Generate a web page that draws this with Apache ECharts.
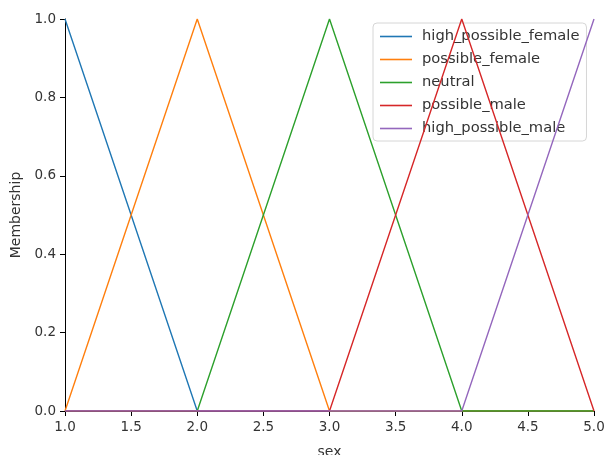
<!DOCTYPE html>
<html><head><meta charset="utf-8">
<script src="https://cdn.jsdelivr.net/npm/echarts@6/dist/echarts.min.js"></script>
<style>html,body{margin:0;padding:0;background:#fff}#c{width:606px;height:455px}</style>
</head><body><div id="c"></div>
<script>
var xs = [1, 2, 3, 4, 5];
var seriesNames = ['high_possible_female','possible_female','neutral','possible_male','high_possible_male'];
var highPossibleFemale = [1, 0, 0, 0, 0];
var possibleFemale = [0, 1, 0, 0, 0];
var neutral = [0, 0, 1, 0, 0];
var possibleMale = [0, 0, 0, 1, 0];
var highPossibleMale = [0, 0, 0, 0, 1];
var colors = ['#1f77b4','#ff7f0e','#2ca02c','#d62728','#9467bd'];
var values = [highPossibleFemale, possibleFemale, neutral, possibleMale, highPossibleMale];

var font = "'DejaVu Sans', sans-serif";
var chart = echarts.init(document.getElementById('c'), null, {renderer:'canvas'});
chart.setOption({
  animation: false,
  backgroundColor: '#fff',
  grid: {left: 65, right: 12, top: 19, bottom: 44, containLabel: false, outerBoundsMode: 'none'},
  xAxis: {
    type: 'value', min: 1, max: 5, interval: 0.5,
    name: 'sex', nameLocation: 'middle', nameGap: 34,
    nameTextStyle: {fontFamily: font, fontSize: 14, color: '#333'},
    axisLine: {show: true, onZero: false, lineStyle: {color: '#000', width: 1}},
    axisTick: {show: true, length: 5, lineStyle: {color: '#000'}},
    axisLabel: {fontFamily: font, fontSize: 13.5, color: '#333', margin: 9, formatter: function(v){return v.toFixed(1);}},
    splitLine: {show: false}
  },
  yAxis: {
    type: 'value', min: 0, max: 1, interval: 0.2,
    name: 'Membership', nameLocation: 'middle', nameGap: 37,
    nameTextStyle: {fontFamily: font, fontSize: 14, color: '#333'},
    axisLine: {show: true, lineStyle: {color: '#000', width: 1}},
    axisTick: {show: true, length: 5, lineStyle: {color: '#000'}},
    axisLabel: {fontFamily: font, fontSize: 13.5, color: '#333', margin: 9, formatter: function(v){return v.toFixed(1);}},
    splitLine: {show: false}
  },
  legend: {
    orient: 'vertical', left: 373, top: 23,
    padding: [5, 7, 4, 7],
    itemGap: 6, itemWidth: 32, itemHeight: 1.6, icon: 'rect',
    backgroundColor: '#fff', borderColor: '#d6d6d6', borderWidth: 1, borderRadius: 4,
    textStyle: {fontFamily: font, fontSize: 14.7, color: '#333', padding: [0, 0, 0, 5], lineHeight: 17},
    data: seriesNames
  },
  series: seriesNames.map(function(n, i){
    return {
      name: n, type: 'line', symbol: 'none', color: colors[i],
      lineStyle: {width: 1.4, color: colors[i]},
      data: xs.map(function(x, j){ return [x, values[i][j]]; }),
      z: 2 + i
    };
  })
});
</script></body></html>
